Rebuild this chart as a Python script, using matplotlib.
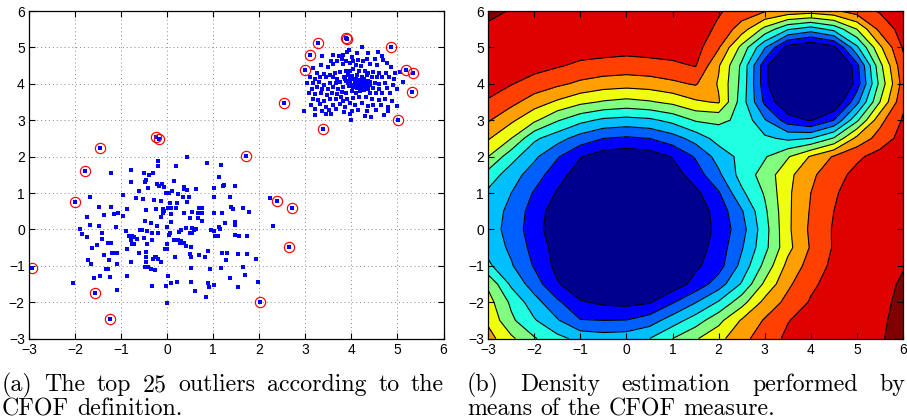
import matplotlib
matplotlib.use("Agg")
import matplotlib.pyplot as plt
import numpy as np

# ---- data ----
# outliers (red circles)
outliers = [(-1.78, 1.60), (-1.45, 2.23), (-0.25, 2.55), (-0.18, 2.48), (1.72, 2.03),
            (2.53, 3.46), (3.38, 2.77), (3.00, 4.37), (3.10, 4.79), (3.28, 5.11),
            (3.88, 5.27), (3.90, 5.24), (4.85, 5.01), (5.18, 4.39), (5.34, 4.30),
            (5.31, 3.77), (5.01, 3.01), (-2.00, 0.75), (-2.93, -1.05), (-1.56, -1.74),
            (-1.24, -2.47), (2.39, 0.78), (2.71, 0.59), (2.64, -0.48), (2.01, -1.99)]

# lower-left cluster
low_pts = [(-1.23, 1.54), (-0.78, 1.63), (-0.20, 1.89), (-0.20, 1.74), (-0.50, 1.54), (-0.40, 1.50),
           (-0.31, 1.56), (-0.79, 1.29), (-0.49, 1.31), (-0.45, 1.36), (-0.22, 1.24), (-0.17, 1.19),
           (-0.12, 1.24), (-0.06, 1.17), (-0.42, 1.13), (-0.62, 1.06), (-0.96, 0.94), (-0.67, 0.87),
           (-0.52, 0.83), (-0.29, 0.81), (-0.13, 0.79), (-0.02, 0.99), (-1.68, 0.90), (-1.49, 0.61),
           (-1.23, 0.61), (-0.87, 0.55), (-0.46, 0.53), (-0.24, 0.55), (-0.09, 0.57), (-0.06, 0.51),
           (-0.09, 0.46), (-0.14, 0.33), (-1.73, 0.35), (-1.37, 0.40), (-1.16, 0.41), (-1.06, 0.44),
           (-0.96, 0.37), (-0.36, 0.17), (-0.22, 0.09), (-0.48, 0.24), (-1.68, 0.12), (-1.47, 0.09),
           (-1.12, 0.07), (-1.89, 0.00), (-1.85, -0.13), (-1.75, -0.22), (-1.42, -0.09), (-0.89, -0.04),
           (-0.82, -0.18), (-0.77, -0.18), (-0.72, -0.22), (-0.78, -0.29), (-0.65, -0.25), (-0.58, -0.02),
           (-0.55, -0.02), (-0.43, -0.04), (-0.32, -0.09), (-0.19, -0.11), (-1.42, -0.27), (-0.51, -0.23),
           (-0.33, -0.29), (-1.52, -0.43), (-1.63, -0.52), (-1.29, -0.38), (-1.21, -0.38), (-0.76, -0.41),
           (-0.71, -0.41), (-0.43, -0.41), (0.00, -0.41), (-0.04, -0.53), (-0.01, -0.55), (-0.87, -0.55),
           (-1.37, -0.70), (-1.20, -0.64), (-1.12, -0.66), (-1.08, -0.66), (-0.62, -0.66), (-0.45, -0.61),
           (-0.27, -0.75), (-0.24, -0.75), (-0.31, -0.82), (-1.27, -0.84), (-0.79, -0.89), (-0.46, -0.77),
           (-0.45, -0.90), (-0.42, -1.02), (-0.19, -0.80), (-0.13, -0.90), (-1.72, -0.84), (-1.65, -0.95),
           (-1.10, -0.95), (-1.32, -1.10), (-1.29, -1.10), (-0.48, -1.04), (-0.36, -1.08), (-0.26, -1.12),
           (-1.45, -1.28), (-1.24, -1.32), (-0.87, -1.28), (-1.59, -1.34), (-2.04, -1.46), (-1.08, -1.67),
           (-0.33, -1.56), (0.00, -2.03),
           (0.44, 1.98), (0.20, 1.74), (0.87, 1.83), (1.16, 1.76), (1.12, 1.45), (0.15, 1.34),
           (1.22, 1.19), (1.24, 1.23), (1.47, 1.19), (0.36, 1.17), (0.44, 1.08), (0.37, 1.10),
           (0.62, 1.11), (0.05, 1.01), (0.11, 1.05), (1.01, 1.15), (0.24, 0.97), (0.35, 0.90),
           (0.47, 0.90), (1.02, 0.90), (1.37, 0.90), (0.22, 0.72), (0.44, 0.76), (0.06, 0.73),
           (0.01, 0.58), (0.09, 0.58), (0.20, 0.58), (0.70, 0.58), (0.75, 0.58), (1.38, 0.62),
           (1.43, 0.55), (1.64, 0.58), (1.77, 0.48), (0.37, 0.44), (0.54, 0.48), (0.75, 0.46),
           (0.67, 0.44), (1.02, 0.44), (1.18, 0.44), (0.08, 0.42), (0.66, 0.31), (0.76, 0.24),
           (0.49, 0.30), (1.25, 0.17), (1.48, 0.19), (1.47, 0.12), (0.08, 0.19), (0.00, 0.06),
           (0.41, 0.03), (0.53, 0.03), (0.63, 0.02), (0.59, -0.03), (0.49, -0.09), (0.54, -0.09),
           (0.96, -0.02), (1.02, -0.04), (1.12, 0.06), (1.14, 0.00), (1.11, -0.18), (1.03, -0.18),
           (0.07, -0.09), (0.05, -0.16), (0.25, -0.07), (0.30, -0.02), (1.48, -0.16), (1.56, -0.18),
           (1.74, -0.18), (0.23, -0.29), (0.15, -0.29), (0.31, -0.31), (0.28, -0.38), (0.37, -0.37),
           (0.40, -0.46), (0.51, -0.48), (0.88, -0.58), (1.19, -0.64), (1.29, -0.66), (1.27, -0.84),
           (1.54, -0.68), (1.74, -0.68), (1.92, -0.80), (0.49, -0.68), (0.51, -0.77), (0.70, -0.71),
           (0.82, -0.75), (0.17, -0.77), (0.51, -1.07), (0.93, -1.10), (1.16, -1.06), (1.65, -1.04),
           (1.69, -1.24), (0.02, -1.28), (1.37, -1.34), (0.09, -1.46), (0.21, -1.45), (0.51, -1.45),
           (0.89, -1.48), (0.90, -1.59), (1.02, -1.52), (1.53, -1.59), (-0.02, -1.56), (0.60, -1.69),
           (0.85, -1.85), (2.24, 0.86), (2.29, 0.08), (1.97, -1.45)]

# upper-right cluster
high_pts = [(3.37, 4.76), (3.60, 4.80), (3.73, 4.77), (3.81, 4.78), (3.95, 4.93), (3.90, 4.86),
            (4.22, 5.00), (4.12, 4.84), (4.36, 4.84), (4.58, 4.86), (4.67, 4.76), (4.01, 4.73),
            (3.79, 4.68), (3.68, 4.63), (3.55, 4.62), (3.88, 4.64), (4.04, 4.62), (4.15, 4.65),
            (4.25, 4.62), (4.34, 4.67), (4.51, 4.67), (4.69, 4.65), (4.77, 4.56),
            (3.17, 4.43), (3.33, 4.51), (3.50, 4.47), (3.60, 4.54), (3.82, 4.54), (3.96, 4.56),
            (4.09, 4.53), (4.20, 4.49), (4.40, 4.54), (4.56, 4.51), (4.87, 4.47), (4.94, 4.31),
            (3.25, 4.31), (3.40, 4.27), (3.53, 4.25), (3.65, 4.29), (3.75, 4.32), (3.88, 4.34),
            (3.98, 4.36), (4.04, 4.40), (4.17, 4.34), (4.30, 4.36), (4.36, 4.29), (4.47, 4.32),
            (4.60, 4.31), (4.75, 4.29), (5.05, 4.32),
            (3.10, 4.18), (3.20, 4.12), (3.31, 4.20), (3.44, 4.18), (3.60, 4.20), (3.69, 4.14),
            (3.83, 4.20), (3.93, 4.25), (4.02, 4.21), (4.12, 4.25), (4.22, 4.18), (4.33, 4.23),
            (4.44, 4.18), (4.56, 4.18), (4.67, 4.20), (4.82, 4.18), (4.92, 4.12),
            (3.04, 4.03), (3.17, 4.01), (3.30, 4.05), (3.41, 3.98), (3.54, 4.03), (3.66, 4.01),
            (3.75, 4.05), (3.89, 4.07), (3.98, 4.09), (4.09, 4.01), (4.15, 4.05), (4.22, 4.01),
            (4.30, 4.03), (4.41, 4.05), (4.51, 4.03), (4.61, 3.99), (4.73, 4.03), (4.90, 3.98),
            (3.14, 3.87), (3.25, 3.92), (3.36, 3.85), (3.49, 3.87), (3.60, 3.90), (3.72, 3.87),
            (3.82, 3.92), (3.95, 3.94), (4.04, 3.90), (4.12, 3.88), (4.19, 3.92), (4.28, 3.94),
            (4.37, 3.87), (4.48, 3.88), (4.60, 3.85), (4.77, 3.88), (4.98, 3.87),
            (3.08, 3.76), (3.21, 3.72), (3.33, 3.74), (3.46, 3.70), (3.57, 3.76), (3.69, 3.72),
            (3.79, 3.77), (3.89, 3.74), (4.01, 3.81), (4.09, 3.76), (4.18, 3.79), (4.27, 3.83),
            (4.40, 3.74), (4.53, 3.74), (4.67, 3.76), (4.83, 3.74),
            (3.17, 3.59), (3.28, 3.56), (3.40, 3.52), (3.53, 3.57), (3.66, 3.59), (3.78, 3.65),
            (3.82, 3.52), (3.91, 3.57), (4.04, 3.61), (4.17, 3.63), (4.31, 3.65), (4.44, 3.57),
            (4.59, 3.56), (4.73, 3.59), (4.89, 3.54),
            (3.12, 3.41), (3.31, 3.45), (3.44, 3.37), (3.60, 3.43), (3.75, 3.45), (3.86, 3.37),
            (3.96, 3.46), (4.07, 3.41), (4.22, 3.48), (4.37, 3.39), (4.48, 3.43), (4.64, 3.41),
            (4.79, 3.37), (4.98, 3.39),
            (2.98, 3.26), (3.20, 3.32), (3.36, 3.24), (3.52, 3.28), (3.66, 3.30), (3.83, 3.23),
            (4.02, 3.26), (4.15, 3.28), (4.33, 3.24), (4.54, 3.28), (4.80, 3.24), (3.21, 3.13),
            (3.56, 3.17), (3.98, 3.17), (4.30, 3.12), (4.43, 3.08), (4.70, 3.13),
            (3.96, 4.14), (4.05, 4.12), (4.11, 4.14), (4.18, 4.10), (4.24, 4.09), (4.28, 4.12),
            (4.19, 3.99), (4.25, 3.96), (4.31, 3.98), (4.11, 3.96), (4.07, 4.03), (4.01, 3.98),
            (3.92, 4.01), (3.86, 4.12), (4.35, 4.09), (4.40, 3.98), (5.13, 4.05), (3.99, 3.00),
            (3.45, 3.18)]

# CFOF density map, band index read at 0.5 steps (rows: y = -3 .. 6)
grid_x = np.arange(-3, 6.01, 0.5)
grid_y = np.arange(-3, 6.01, 0.5)
cfof_level = [
    [6.9, 5.7, 4.6, 3.8, 3.2, 3.0, 3.1, 3.5, 4.5, 5.4, 6.2, 7.2, 8.0, 8.7, 9.0, 9.15, 9.25, 9.4, 9.9],
    [6.3, 4.7, 3.6, 2.6, 1.55, 1.5, 1.53, 2.0, 3.0, 4.0, 5.2, 6.6, 7.6, 8.45, 8.9, 9.1, 9.2, 9.35, 9.8],
    [5.9, 4.3, 2.9, 1.7, 0.6, 0.3, 0.2, 0.4, 1.4, 2.45, 3.6, 5.1, 6.8, 7.8, 8.6, 9.0, 9.15, 9.3, 9.7],
    [5.3, 3.3, 2.0, 0.6, -0.2, -1.0, -1.2, -1.0, -0.1, 0.85, 2.0, 3.6, 5.7, 7.3, 8.3, 8.9, 9.1, 9.25, 9.6],
    [3.7, 2.6, 1.4, 0.2, -0.6, -1.4, -1.6, -1.4, -0.6, 0.3, 1.1, 2.8, 4.8, 6.8, 7.9, 8.75, 9.1, 9.2, 9.45],
    [3.15, 2.3, 1.15, 0.1, -1.3, -2.3, -2.6, -2.3, -1.3, 0.0, 0.95, 2.4, 4.2, 6.2, 7.6, 8.6, 9.0, 9.1, 9.3],
    [3.0, 2.1, 0.95, -0.2, -1.5, -2.5, -3.0, -2.5, -1.5, -0.2, 0.8, 2.1, 4.1, 6.3, 7.7, 8.6, 9.0, 9.1, 9.2],
    [3.1, 2.2, 1.05, -0.07, -1.5, -2.5, -3.0, -2.5, -1.5, -0.1, 0.9, 2.4, 4.3, 6.3, 7.6, 8.5, 9.0, 9.1, 9.15],
    [3.3, 2.5, 1.4, 0.4, -1.0, -1.7, -2.0, -1.7, -1.0, 0.25, 1.4, 3.3, 4.6, 6.3, 7.5, 8.4, 8.9, 9.05, 9.1],
    [4.1, 2.95, 2.0, 0.9, 0.0, -0.8, -1.0, -0.8, 0.0, 1.0, 2.3, 3.9, 4.9, 6.2, 7.3, 8.1, 8.8, 9.0, 9.1],
    [5.5, 3.9, 2.7, 1.6, 0.56, -0.03, -0.2, -0.03, 0.56, 1.6, 2.9, 3.8, 4.4, 5.4, 6.6, 7.6, 8.3, 8.9, 9.1],
    [6.6, 5.5, 3.7, 2.9, 2.06, 1.5, 1.34, 1.5, 2.06, 2.9, 3.9, 4.1, 3.7, 3.3, 3.5, 4.6, 6.8, 7.9, 8.9],
    [7.6, 6.7, 5.7, 4.6, 3.8, 3.3, 3.15, 3.3, 3.8, 4.6, 4.7, 4.3, 2.6, 1.0, 0.4, 1.5, 4.3, 7.2, 8.6],
    [8.4, 7.8, 7.0, 6.35, 5.75, 5.4, 5.2, 5.4, 5.75, 6.35, 6.6, 4.0, 1.3, -0.5, -2.0, -0.5, 2.2, 5.5, 8.3],
    [8.9, 8.55, 8.1, 7.7, 7.3, 7.0, 6.9, 7.0, 7.3, 7.6, 6.4, 4.2, 0.9, -2.0, -3.0, -2.0, 1.0, 4.8, 7.9],
    [9.2, 9.0, 8.85, 8.6, 8.3, 8.2, 8.1, 8.2, 8.3, 8.55, 6.6, 4.3, 0.9, -2.0, -3.0, -2.0, 1.2, 5.2, 8.2],
    [9.2, 9.2, 9.2, 9.1, 9.0, 8.9, 8.85, 8.9, 9.0, 8.9, 7.6, 5.2, 2.6, 0.1, -0.5, 0.2, 3.3, 6.3, 8.6],
    [9.35, 9.2, 9.2, 9.2, 9.2, 9.2, 9.2, 9.15, 9.1, 9.0, 8.3, 7.0, 5.2, 3.6, 3.0, 3.8, 5.5, 7.8, 8.9],
    [9.7, 9.45, 9.25, 9.2, 9.2, 9.2, 9.2, 9.2, 9.1, 9.0, 8.6, 8.1, 7.6, 7.2, 7.0, 7.3, 8.0, 8.6, 9.0],
]
band_colors = ['#00008F', '#0000FF', '#0060FF', '#00BFFF', '#20FFDF', '#80FF80',
               '#EFFF10', '#FFA000', '#FF4000', '#DF0000', '#800000']

caption_a = ["(a) The top 25 outliers according to the", "CFOF definition."]
caption_b = ["(b)   Density estimation performed by", "means of the CFOF measure."]

W, H = 907, 420
CAP_SIZE = 17.2
tick_font = ['Liberation Sans Narrow', 'Liberation Sans', 'DejaVu Sans']


def style_axes(ax):
    ax.set_xlim(-3, 6)
    ax.set_ylim(-3, 6)
    ax.set_xticks(range(-3, 7))
    ax.set_yticks(range(-3, 7))
    ax.tick_params(direction='in', top=True, right=True, length=4, width=0.8,
                   labelsize=10, pad=3)
    for lab in ax.get_xticklabels() + ax.get_yticklabels():
        lab.set_family(tick_font)
    for s in ax.spines.values():
        s.set_linewidth(0.9)


def justify(fig, renderer, line, x0, x1, y, fill=True):
    # place words one by one so the line runs flush to both edges
    words = line.split()
    texts = [fig.text(0, y, w, family='cmr10', fontsize=CAP_SIZE, va='baseline')
             for w in words]
    widths = [t.get_window_extent(renderer).width for t in texts]
    if fill and len(words) > 1:
        gap = (x1 - x0 - sum(widths)) / (len(words) - 1)
    else:
        gap = 0.333 * CAP_SIZE * 100 / 72
    x = x0
    for t, w in zip(texts, widths):
        t.set_x(x / W)
        x += w + gap


fig = plt.figure(figsize=(W / 100, H / 100), dpi=100)
ax1 = fig.add_axes([29 / W, 1 - 338.6 / H, 414.5 / W, 327.6 / H])
ax2 = fig.add_axes([488.2 / W, 1 - 338.6 / H, 414.8 / W, 327.6 / H])

# left: scatter with outliers
lx, ly = zip(*low_pts)
hx, hy = zip(*high_pts)
ox, oy = zip(*outliers)
for px, py in [(lx, ly), (hx, hy), (ox, oy)]:
    ax1.plot(px, py, 's', color='#0000FF', markersize=2.2, markeredgewidth=0)
ax1.plot(ox, oy, 'o', markerfacecolor='none', markeredgecolor='#FF0000',
         markersize=7.4, markeredgewidth=0.85)
ax1.grid(True, linestyle=(0, (1, 3)), color='#888888', linewidth=0.7)
ax1.set_axisbelow(True)
style_axes(ax1)

# right: filled contour of CFOF score
Z = np.array(cfof_level)
levels = [-10] + [k + 0.5 for k in range(10)] + [20]
ax2.contourf(grid_x, grid_y, Z, levels=levels, colors=band_colors)
ax2.contour(grid_x, grid_y, Z, levels=levels[1:-1], colors='black', linewidths=0.8)
style_axes(ax2)

# captions (serif, justified like the LaTeX subcaptions)
fig.canvas.draw()
r = fig.canvas.get_renderer()
justify(fig, r, caption_a[0], 2, 444, 1 - 391 / H)
justify(fig, r, caption_a[1], 2, 444, 1 - 415 / H, fill=False)
justify(fig, r, caption_b[0], 467, 905, 1 - 391 / H)
justify(fig, r, caption_b[1], 467, 905, 1 - 415 / H, fill=False)

fig.savefig('out.png', dpi=100)
